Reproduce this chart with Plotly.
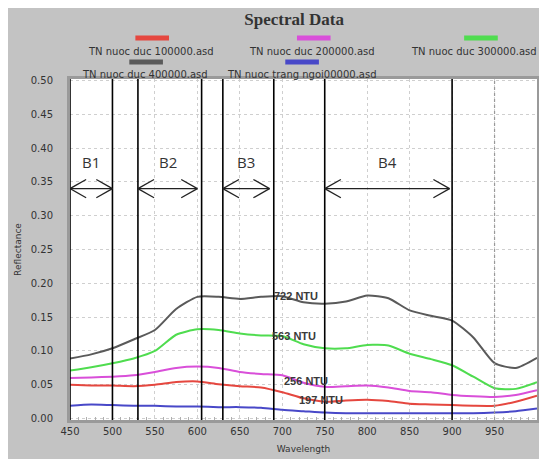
import plotly.graph_objects as go

# ---------------- data ----------------
wavelength = [450, 475, 500, 525, 550, 575, 600, 625, 650, 675, 700, 725,
              750, 775, 800, 825, 850, 875, 900, 925, 950, 975, 1000]

refl_100000 = [0.050, 0.049, 0.049, 0.048, 0.050, 0.054, 0.055, 0.051, 0.048, 0.046, 0.039, 0.030,
               0.025, 0.027, 0.028, 0.026, 0.022, 0.021, 0.020, 0.019, 0.019, 0.025, 0.034]
refl_200000 = [0.060, 0.061, 0.062, 0.064, 0.069, 0.075, 0.077, 0.075, 0.069, 0.066, 0.064, 0.053,
               0.047, 0.048, 0.049, 0.046, 0.041, 0.039, 0.035, 0.033, 0.032, 0.035, 0.042]
refl_300000 = [0.071, 0.076, 0.082, 0.089, 0.100, 0.124, 0.132, 0.131, 0.126, 0.123, 0.122, 0.110,
               0.104, 0.104, 0.109, 0.108, 0.096, 0.088, 0.079, 0.062, 0.045, 0.044, 0.054]
refl_400000 = [0.089, 0.095, 0.104, 0.117, 0.131, 0.162, 0.180, 0.180, 0.177, 0.180, 0.181, 0.172,
               0.170, 0.173, 0.182, 0.178, 0.160, 0.152, 0.145, 0.120, 0.082, 0.075, 0.090]
refl_trang = [0.019, 0.021, 0.020, 0.019, 0.019, 0.018, 0.018, 0.017, 0.017, 0.016, 0.013, 0.011,
              0.009, 0.008, 0.008, 0.008, 0.008, 0.008, 0.008, 0.008, 0.009, 0.011, 0.015]

series_names = ["TN nuoc duc 100000.asd", "TN nuoc duc 200000.asd", "TN nuoc duc 300000.asd",
                "TN nuoc duc 400000.asd", "TN nuoc trang ngoi00000.asd"]
series_values = [refl_100000, refl_200000, refl_300000, refl_400000, refl_trang]
series_colors = ["#e5473f", "#d94fd9", "#4fdc4f", "#5a5a5a", "#4848c8"]

band_edges = [450, 500, 530, 605, 630, 690, 750, 900]
band_names = ["B1", "B2", "B3", "B4"]
band_arrow_start = [450, 530, 630, 750]
band_arrow_end = [500, 600, 685, 897]
arrow_level = 0.34
band_label_level = 0.38
marker_line = 950

ntu_labels = ["722 NTU", "563 NTU", "256 NTU", "197 NTU"]
ntu_x = [716, 714, 728, 746]
ntu_y = [0.181, 0.122, 0.056, 0.027]

# arrow-head size (in axis units)
head_dx = 19
head_dy = 0.0135

fig = go.Figure()
for name, vals, col in zip(series_names, series_values, series_colors):
    fig.add_trace(go.Scatter(x=wavelength, y=vals, mode="lines", name=name,
                             line=dict(color=col, width=2, shape="spline", smoothing=0.6),
                             showlegend=False))

# band boundary lines
for e in band_edges:
    fig.add_shape(type="line", xref="x", yref="paper", x0=e, x1=e, y0=0, y1=1,
                  line=dict(color="black", width=1.6))
fig.add_shape(type="line", xref="x", yref="paper", x0=marker_line, x1=marker_line, y0=0, y1=1,
              line=dict(color="#999999", width=1.2, dash="dot"))

# band arrows (shaft + open chevron heads) and labels
arrow_style = dict(color="#222222", width=1.3)
for nm, a0, a1 in zip(band_names, band_arrow_start, band_arrow_end):
    fig.add_shape(type="line", xref="x", yref="y", x0=a0, x1=a1, y0=arrow_level, y1=arrow_level,
                  line=arrow_style)
    for tip, d in ((a0, 1), (a1, -1)):
        for s in (1, -1):
            fig.add_shape(type="line", xref="x", yref="y", x0=tip, y0=arrow_level,
                          x1=tip + d * head_dx, y1=arrow_level + s * head_dy, line=arrow_style)
    fig.add_annotation(x=(a0 + a1) / 2, y=band_label_level, xref="x", yref="y", text=nm,
                       showarrow=False, font=dict(family="Open Sans", size=15, color="#333333"))

for t, xx, yy in zip(ntu_labels, ntu_x, ntu_y):
    fig.add_annotation(x=xx, y=yy, xref="x", yref="y", text="<b>" + t + "</b>", showarrow=False,
                       font=dict(family="Liberation Sans Narrow, Liberation Sans", size=11, color="#3a3a3a"))

# custom legend (swatch above text)
leg_x = [0.176, 0.522, 0.880, 0.163, 0.497]
leg_text_x = [0.173, 0.518, 0.865, 0.161, 0.497]
leg_sw_y = [1.120, 1.120, 1.120, 1.050, 1.050]
leg_tx_y = [1.082, 1.082, 1.082, 1.012, 1.012]
for name, col, lx, tx, sy, ty in zip(series_names, series_colors, leg_x, leg_text_x, leg_sw_y, leg_tx_y):
    fig.add_shape(type="line", xref="paper", yref="paper", x0=lx - 0.036, x1=lx + 0.036,
                  y0=sy, y1=sy, line=dict(color=col, width=5))
    fig.add_annotation(x=tx, y=ty, xref="paper", yref="paper", text=name, showarrow=False,
                       xanchor="center", yanchor="middle",
                       font=dict(family="DejaVu Sans", size=10, color="#333333"))

fig.update_layout(
    width=539, height=451,
    margin=dict(l=62, r=10, t=71, b=39),
    paper_bgcolor="#c3c3c3", plot_bgcolor="white",
    title=dict(text="<b>Spectral Data</b>", xref="paper", x=0.48, xanchor="center",
               y=0.988, yanchor="top",
               font=dict(family="Liberation Serif", size=17, color="#333333")),
    xaxis=dict(range=[450, 1000], dtick=50, tick0=450, showgrid=True, gridcolor="#cfcfcf",
               griddash="dot", zeroline=False, showline=True, linecolor="#9a9a9a", linewidth=3,
               mirror=True, ticks="", automargin=False,
               tickfont=dict(family="DejaVu Sans", size=10, color="#333333"),
               title=dict(text="Wavelength", standoff=10, font=dict(family="DejaVu Sans", size=9, color="#333333")),
               minor=dict(dtick=10, ticks="inside", ticklen=3, tickcolor="#b0b0b0")),
    yaxis=dict(range=[-0.002, 0.502], dtick=0.05, tick0=0, tickformat=".2f", showgrid=True,
               gridcolor="#cfcfcf", griddash="dot", zeroline=False, showline=True, linecolor="#9a9a9a",
               linewidth=3, mirror=True, ticks="", ticklabelstandoff=12, automargin=False,
               tickfont=dict(family="DejaVu Sans", size=10, color="#333333"),
               title=dict(text="Reflectance", standoff=8, font=dict(family="DejaVu Sans", size=9, color="#333333"))),
)

fig.write_html("out.html")
